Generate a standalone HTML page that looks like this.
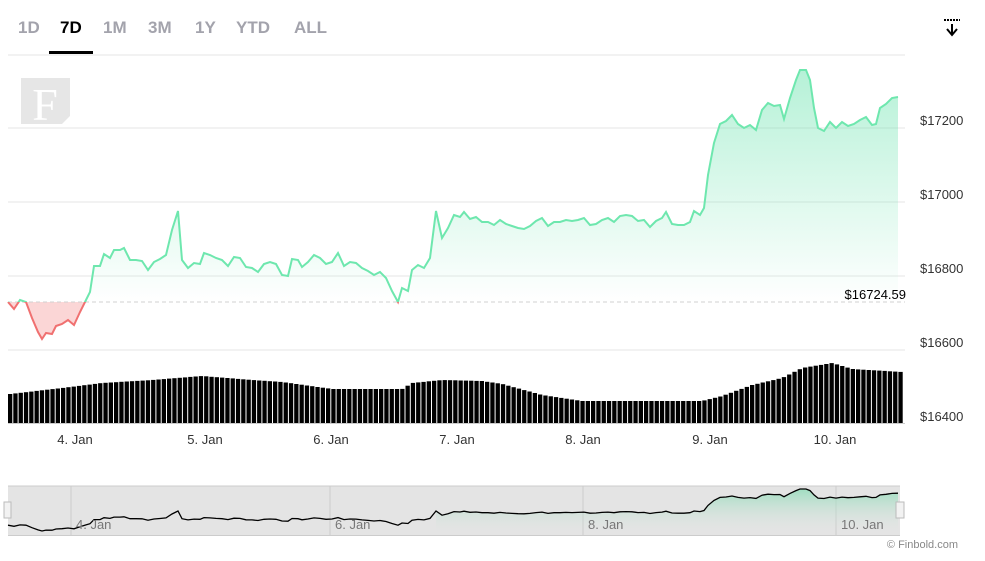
<!DOCTYPE html><html><head><style>
body{margin:0;width:985px;height:561px;background:#fff;font-family:"Liberation Sans",sans-serif;overflow:hidden;position:relative}
.tab{position:absolute;top:18px;font-size:17px;font-weight:bold;color:#a3a3ac}
</style></head><body>
<div class="tab" style="left:18px">1D</div>
<div class="tab" style="left:60px;color:#000">7D</div>
<div class="tab" style="left:103px">1M</div>
<div class="tab" style="left:148px">3M</div>
<div class="tab" style="left:195px">1Y</div>
<div class="tab" style="left:236px">YTD</div>
<div class="tab" style="left:294px">ALL</div>
<div style="position:absolute;left:49px;top:51px;width:44px;height:3px;background:#000"></div>
<svg id="s" width="985" height="561" style="position:absolute;left:0;top:0"></svg>
<script>
const P=[[8,302],[14,309],[20,300],[26,302],[32,318],[38,332],[42,339],[46,333],[52,334],[56,326],[62,324],[68,320],[74,325],[80,312],[86,300],[90,292],[94,266],[100,266],[104,254],[110,258],[114,250],[120,250],[124,248],[130,260],[136,260],[142,261],[148,270],[154,262],[160,259],[166,255],[172,230],[178,211],[182,260],[188,268],[194,263],[200,264],[204,253],[210,255],[216,258],[222,260],[228,266],[234,257],[240,258],[246,267],[252,268],[258,272],[264,264],[270,262],[276,264],[282,275],[288,276],[292,259],[298,260],[302,267],[308,262],[314,255],[320,258],[326,264],[332,262],[338,253],[344,266],[350,262],[356,263],[362,268],[368,271],[374,275],[380,272],[386,278],[392,291],[398,302],[402,288],[408,291],[412,270],[418,265],[424,268],[430,258],[436,211],[442,238],[448,228],[454,215],[460,217],[464,212],[470,219],[476,217],[482,222],[488,222],[494,225],[500,220],[506,224],[512,226],[518,228],[524,229],[530,226],[536,221],[542,218],[548,226],[554,222],[560,222],[566,220],[572,221],[578,220],[584,218],[590,225],[596,224],[602,220],[608,218],[614,222],[620,216],[626,215],[632,216],[638,221],[644,220],[650,227],[656,221],[662,218],[666,212],[672,224],[678,225],[684,225],[690,222],[694,211],[700,215],[704,208],[708,175],[714,143],[720,124],[726,121],[732,115],[738,124],[744,128],[750,125],[756,130],[762,110],[768,103],[774,106],[780,105],[784,119],[790,98],[796,80],[800,70],[806,70],[810,80],[814,108],[818,128],[824,131],[830,122],[836,128],[842,122],[848,126],[854,124],[860,120],[866,117],[872,125],[876,124],[880,108],[886,104],[892,98],[898,97]];
const V=[[8,394],[60,388],[100,383],[150,380],[200,376],[250,380],[280,382],[330,389],[400,389],[410,383],[440,380],[480,381],[500,384],[540,395],[580,401],[700,401],[720,396],[750,385],[780,378],[800,368],[830,363],[850,369],[900,372]];
function vi(x){for(let i=0;i<V.length-1;i++){if(x<=V[i+1][0]){const t=(x-V[i][0])/(V[i+1][0]-V[i][0]);return V[i][1]+t*(V[i+1][1]-V[i][1]);}}return 372}
const B=302;
let h='<defs><linearGradient id="g" gradientUnits="userSpaceOnUse" x1="0" y1="70" x2="0" y2="302"><stop offset="0" stop-color="#5ce0a6" stop-opacity=".45"/><stop offset="1" stop-color="#5ce0a6" stop-opacity="0"/></linearGradient>'+
'<linearGradient id="g2" gradientUnits="userSpaceOnUse" x1="0" y1="489" x2="0" y2="535"><stop offset="0" stop-color="#8fdcb8"/><stop offset="1" stop-color="#e4e4e4" stop-opacity="0"/></linearGradient>'+
'<clipPath id="up"><rect x="0" y="0" width="985" height="'+B+'"/></clipPath><clipPath id="dn"><rect x="0" y="'+B+'" width="985" height="200"/></clipPath></defs>';
[55,128,202,276,350].forEach(y=>h+=`<line x1="8" x2="905" y1="${y}" y2="${y}" stroke="#e6e6e6"/>`);
h+='<rect x="21" y="78" width="49" height="46" fill="#e6e6e6"/><polygon points="62,124 70,124 70,116" fill="#fff"/><text x="45" y="120" font-family="Liberation Serif,serif" font-size="46" fill="#fff" text-anchor="middle">F</text>';
for(let x=8;x<900;x+=5.3){const t=vi(x);h+=`<rect x="${x.toFixed(1)}" y="${t.toFixed(1)}" width="4.3" height="${(423-t).toFixed(1)}" fill="#000"/>`}
h+='<line x1="8" x2="905" y1="423.5" y2="423.5" stroke="#ccc"/>';
const d=P.map((p,i)=>(i?'L':'M')+p[0]+','+p[1]).join('');
const fill=d+`L898,${B}L8,${B}Z`;
h+=`<path d="${fill}" fill="url(#g)" clip-path="url(#up)"/><path d="${fill}" fill="#f7a3a3" opacity=".45" clip-path="url(#dn)"/>`;
h+=`<line x1="8" x2="905" y1="${B}" y2="${B}" stroke="#d0d0d0" stroke-dasharray="4,3"/>`;
h+=`<path d="${d}" fill="none" stroke="#6ee7ae" stroke-width="2" clip-path="url(#up)"/><path d="${d}" fill="none" stroke="#f07070" stroke-width="2" clip-path="url(#dn)"/>`;
[[120,'$17200'],[194,'$17000'],[268,'$16800'],[342,'$16600'],[416,'$16400']].forEach(a=>h+=`<text x="920" y="${a[0]+5}" font-size="13" fill="#333">${a[1]}</text>`);
h+='<text x="906" y="299" font-size="13" fill="#000" text-anchor="end">$16724.59</text>';
[[75,'4. Jan'],[205,'5. Jan'],[331,'6. Jan'],[457,'7. Jan'],[583,'8. Jan'],[710,'9. Jan'],[835,'10. Jan']].forEach(a=>h+=`<text x="${a[0]}" y="444" font-size="13" fill="#333" text-anchor="middle">${a[1]}</text>`);
h+='<rect x="8" y="486" width="892" height="50" fill="#e4e4e4"/><line x1="8" x2="900" y1="486" y2="486" stroke="#ccc"/><line x1="8" x2="900" y1="535.5" y2="535.5" stroke="#ccc"/>';
[71,330,583,836].forEach(x=>h+=`<line x1="${x}" x2="${x}" y1="486" y2="535" stroke="#ccc"/>`);
const N=P.map(p=>[p[0],489+(p[1]-70)*42/269]);
const nd=N.map((p,i)=>(i?'L':'M')+p[0]+','+p[1].toFixed(1)).join('');
h+=`<path d="${N.filter(p=>p[0]>=436).map((p,i)=>(i?'L':'M')+p[0]+','+p[1].toFixed(1)).join('')}L898,535L436,535Z" fill="url(#g2)" opacity=".8"/>`;
h+=`<path d="${nd}" fill="none" stroke="#000" stroke-width="1.3"/>`;
[[76,'4. Jan'],[335,'6. Jan'],[588,'8. Jan'],[841,'10. Jan']].forEach(a=>h+=`<text x="${a[0]}" y="529" font-size="13" fill="#777">${a[1]}</text>`);
h+='<rect x="4" y="502" width="7" height="16" fill="#f2f2f2" stroke="#bbb"/><rect x="896" y="502" width="8" height="16" fill="#f2f2f2" stroke="#bbb"/>';
h+='<text x="958" y="548" font-size="11" fill="#888" text-anchor="end">© Finbold.com</text>';
h+='<line x1="944" x2="960" y1="20" y2="20" stroke="#000" stroke-dasharray="2,1" stroke-width="2"/><path d="M952 24V34M947 29L952 35L957 29" stroke="#000" stroke-width="2" fill="none"/>';
document.getElementById('s').innerHTML=h;
</script>
</body></html>
